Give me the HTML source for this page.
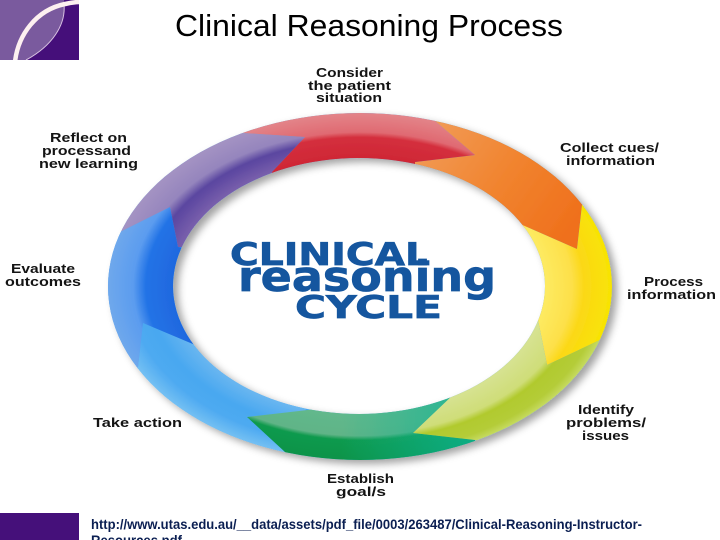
<!DOCTYPE html>
<html>
<head>
<meta charset="utf-8">
<style>
html,body{margin:0;padding:0;background:#fff;width:720px;height:540px;overflow:hidden}
svg{display:block}
.l{font-family:"Liberation Sans",sans-serif;font-weight:bold;font-size:13px;fill:#141414}
.c{font-family:"DejaVu Sans",sans-serif;font-weight:bold;fill:#15569f;stroke:#15569f;stroke-width:.7}
</style>
</head>
<body>
<svg width="720" height="540" viewBox="0 0 720 540" xmlns="http://www.w3.org/2000/svg">
<defs>
<clipPath id="ring"><path clip-rule="evenodd" d="M108,286.5a252,173.5 0 1,0 504,0a252,173.5 0 1,0 -504,0ZM173,286a186,128 0 1,0 372,0a186,128 0 1,0 -372,0Z"/></clipPath>
<clipPath id="logoClip"><rect x="0" y="0" width="79" height="60"/></clipPath>
<filter id="sh" x="-10%" y="-15%" width="120%" height="130%"><feDropShadow dx="5" dy="4" stdDeviation="4" flood-color="#000" flood-opacity=".36"/></filter>
<radialGradient id="gRed" gradientUnits="userSpaceOnUse" cx="0" cy="0" r="1" gradientTransform="translate(360 286.5) scale(252 173.5)">
<stop offset=".74" stop-color="#cf2735"/><stop offset=".86" stop-color="#d42f3d"/><stop offset=".89" stop-color="#e06a72"/><stop offset="1" stop-color="#e38489"/></radialGradient>
<radialGradient id="gPur" gradientUnits="userSpaceOnUse" cx="0" cy="0" r="1" gradientTransform="translate(360 286.5) scale(252 173.5)">
<stop offset=".74" stop-color="#7a60ac"/><stop offset=".84" stop-color="#5a46a0"/><stop offset=".89" stop-color="#9585bd"/><stop offset="1" stop-color="#a493c3"/></radialGradient>
<radialGradient id="gBlu" gradientUnits="userSpaceOnUse" cx="0" cy="0" r="1" gradientTransform="translate(360 286.5) scale(252 173.5)">
<stop offset=".74" stop-color="#1f68df"/><stop offset=".85" stop-color="#2273e6"/><stop offset=".9" stop-color="#5b9cef"/><stop offset="1" stop-color="#6fa8ec"/></radialGradient>
<radialGradient id="gSky" gradientUnits="userSpaceOnUse" cx="0" cy="0" r="1" gradientTransform="translate(360 286.5) scale(252 173.5)">
<stop offset=".74" stop-color="#69b6f0"/><stop offset=".84" stop-color="#49a8f0"/><stop offset=".92" stop-color="#4eaaf1"/><stop offset="1" stop-color="#74c0f3"/></radialGradient>
<radialGradient id="gGrn" gradientUnits="userSpaceOnUse" cx="0" cy="0" r="1" gradientTransform="translate(360 286.5) scale(252 173.5)">
<stop offset=".74" stop-color="#62b88c"/><stop offset=".86" stop-color="#60b487"/><stop offset=".885" stop-color="#119a4e"/><stop offset="1" stop-color="#0d9348"/></radialGradient>
<linearGradient id="gTeal" gradientUnits="userSpaceOnUse" x1="340" y1="0" x2="470" y2="0"><stop offset="0" stop-color="#12b596" stop-opacity="0"/><stop offset="1" stop-color="#12b596" stop-opacity=".75"/></linearGradient>
<radialGradient id="gLim" gradientUnits="userSpaceOnUse" cx="0" cy="0" r="1" gradientTransform="translate(360 286.5) scale(252 173.5)">
<stop offset=".74" stop-color="#d6e290"/><stop offset=".85" stop-color="#cfdd78"/><stop offset=".885" stop-color="#b1ca2e"/><stop offset=".96" stop-color="#b4cc38"/><stop offset="1" stop-color="#c6da60"/></radialGradient>
<radialGradient id="gYel" gradientUnits="userSpaceOnUse" cx="0" cy="0" r="1" gradientTransform="translate(360 286.5) scale(252 173.5)">
<stop offset=".74" stop-color="#fdea60"/><stop offset=".84" stop-color="#fde04a"/><stop offset=".89" stop-color="#fbd816"/><stop offset="1" stop-color="#f8e404"/></radialGradient>
<linearGradient id="gOrg" gradientUnits="userSpaceOnUse" x1="430" y1="130" x2="570" y2="230"><stop offset="0" stop-color="#f19a55"/><stop offset=".5" stop-color="#f1842f"/><stop offset="1" stop-color="#ef701c"/></linearGradient>
</defs>

<g filter="url(#sh)">
<g clip-path="url(#ring)">
<rect x="90" y="90" width="540" height="400" fill="#4aa8f0"/>
<polygon fill="url(#gOrg)" points="435,121 475,155 415,162 415,175 510,230 527,227 577,249 582,205 650,190 435,90"/>
<polygon fill="url(#gYel)" points="547,365 538,320 500,300 500,215 527,227 577,249 582,205 650,205 650,340 600,340"/>
<polygon fill="url(#gSky)" points="143,323 200,347 320,380 305,411 247,417 285,452 285,480 100,400 138,367"/>
<polygon fill="url(#gGrn)" points="247,417 325,408 325,390 455,390 448,400 413,433 475,440 475,480 285,480 285,452"/>
<polygon fill="url(#gTeal)" points="247,417 325,408 325,390 455,390 448,400 413,433 475,440 475,480 285,480 285,452"/>
<polygon fill="url(#gLim)" points="413,433 455,393 520,320 538,320 547,365 600,340 650,340 560,480 475,440"/>
<polygon fill="url(#gBlu)" points="120,232 170,207 178,247 200,250 200,347 143,323 138,367 90,380 90,220"/>
<polygon fill="url(#gPur)" points="243,133 305,137 272,172 300,250 178,247 170,207 120,232 90,180 243,100"/>
<polygon fill="url(#gRed)" points="243,133 243,100 435,100 435,121 475,155 415,162 415,200 272,200 272,172 305,137"/>
</g>
</g>

<!-- top logo -->
<g clip-path="url(#logoClip)">
<rect x="0" y="0" width="79" height="60" fill="#7a5a9e"/>
<path d="M64,0 C66,25 52,46 26,60 L79,60 L79,0 Z" fill="#450f7a"/>
<path d="M64,4 C66,25 52,46 26,60" fill="none" stroke="#d9c3e2" stroke-width="1"/>
<path d="M15,62 C18,35 36,10 65,4 C70,3 74,2 80,2" fill="none" stroke="#fdf0f0" stroke-width="4.5"/>
</g>
<!-- bottom block -->
<rect x="0" y="513" width="79" height="27" fill="#45107a"/>

<!-- title -->
<text x="175" y="36" font-family="'Liberation Sans',sans-serif" font-size="31" fill="#000" textLength="388" lengthAdjust="spacingAndGlyphs">Clinical Reasoning Process</text>

<!-- central logo text -->
<text class="c" x="230" y="265" font-size="31" textLength="200" lengthAdjust="spacingAndGlyphs">CLINICAL</text>
<text class="c" x="238" y="291" font-size="42" textLength="258" lengthAdjust="spacingAndGlyphs">reasoning</text>
<text class="c" x="295" y="318" font-size="31" textLength="147" lengthAdjust="spacingAndGlyphs">CYCLE</text>

<!-- labels -->
<text class="l" x="316" y="77" textLength="67" lengthAdjust="spacingAndGlyphs">Consider</text>
<text class="l" x="308" y="90" textLength="83" lengthAdjust="spacingAndGlyphs">the patient</text>
<text class="l" x="316" y="102" textLength="66" lengthAdjust="spacingAndGlyphs">situation</text>

<text class="l" x="50" y="142" textLength="77" lengthAdjust="spacingAndGlyphs">Reflect on</text>
<text class="l" x="42" y="155" textLength="89" lengthAdjust="spacingAndGlyphs">processand</text>
<text class="l" x="39" y="168" textLength="99" lengthAdjust="spacingAndGlyphs">new learning</text>

<text class="l" x="560" y="152" textLength="99" lengthAdjust="spacingAndGlyphs">Collect cues/</text>
<text class="l" x="566" y="165" textLength="89" lengthAdjust="spacingAndGlyphs">information</text>

<text class="l" x="644" y="286" textLength="59" lengthAdjust="spacingAndGlyphs">Process</text>
<text class="l" x="627" y="299" textLength="89" lengthAdjust="spacingAndGlyphs">information</text>

<text class="l" x="578" y="414" textLength="56" lengthAdjust="spacingAndGlyphs">Identify</text>
<text class="l" x="566" y="427" textLength="80" lengthAdjust="spacingAndGlyphs">problems/</text>
<text class="l" x="582" y="440" textLength="47" lengthAdjust="spacingAndGlyphs">issues</text>

<text class="l" x="327" y="483" textLength="67" lengthAdjust="spacingAndGlyphs">Establish</text>
<text class="l" x="336" y="496" textLength="50" lengthAdjust="spacingAndGlyphs">goal/s</text>

<text class="l" x="93" y="427" textLength="89" lengthAdjust="spacingAndGlyphs">Take action</text>

<text class="l" x="11" y="273" textLength="64" lengthAdjust="spacingAndGlyphs">Evaluate</text>
<text class="l" x="5" y="286" textLength="76" lengthAdjust="spacingAndGlyphs">outcomes</text>

<!-- url -->
<text x="91" y="529" font-family="'Liberation Sans',sans-serif" font-weight="bold" font-size="14" fill="#0b1f52" textLength="551" lengthAdjust="spacingAndGlyphs">http://www.utas.edu.au/__data/assets/pdf_file/0003/263487/Clinical-Reasoning-Instructor-</text>
<text x="91" y="545" font-family="'Liberation Sans',sans-serif" font-weight="bold" font-size="14" fill="#0b1f52" textLength="91" lengthAdjust="spacingAndGlyphs">Resources.pdf</text>
</svg>
</body>
</html>
